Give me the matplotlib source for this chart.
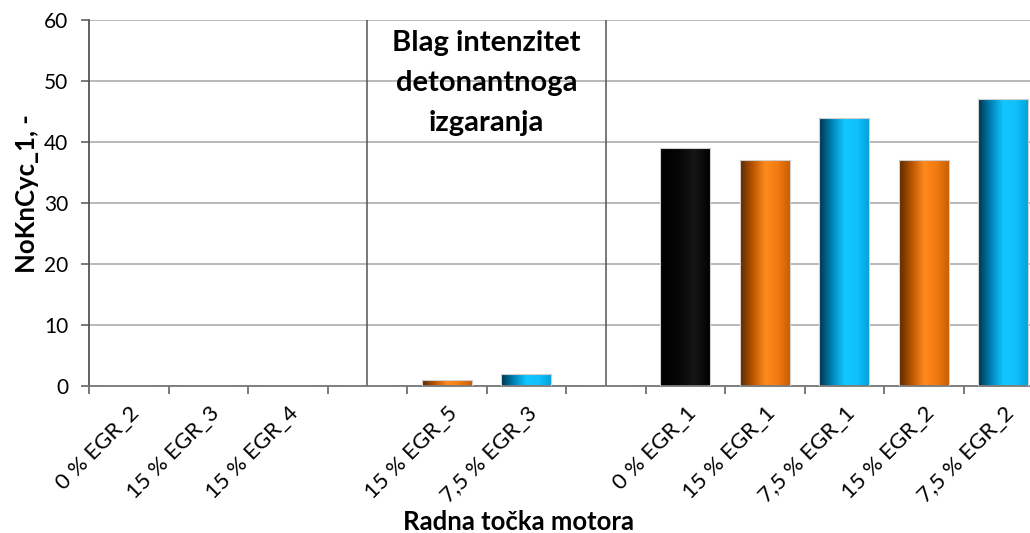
import numpy as np
import matplotlib
matplotlib.use("Agg")
import matplotlib.pyplot as plt
from matplotlib.colors import LinearSegmentedColormap

plt.rcParams['font.family'] = ['Lato', 'DejaVu Sans']

# operating points, blank slots separate the three groups
labels = ['0 % EGR_2', '15 % EGR_3', '15 % EGR_4', '',
          '15 % EGR_5', '7,5 % EGR_3', '',
          '0 % EGR_1', '15 % EGR_1', '7,5 % EGR_1', '15 % EGR_2', '7,5 % EGR_2']
values = [0, 0, 0, 0, 1, 2, 0, 39, 37, 44, 37, 47]
kinds = ['', '', '', '', 'orange', 'blue', '', 'black', 'orange', 'blue', 'orange', 'blue']
separators = [3, 6]

gradients = {
    'black': ['#000000', '#050505', '#161616', '#000000'],
    'orange': ['#5c2800', '#b85500', '#ff8a1e', '#f07a10', '#c45c00'],
    'blue': ['#00334d', '#0082b5', '#12c6ff', '#10c0fa', '#00a0d8'],
}

fig = plt.figure(figsize=(10.3, 5.33), dpi=100)
ax = fig.add_axes([0.0867, 0.2758, 0.926, 0.6867])

x = np.arange(len(labels))
bars = ax.bar(x, values, width=0.63, color='none', edgecolor='#d0d0d0', linewidth=0.8, zorder=3)

# cylinder-like shading: horizontal gradient clipped to each bar
for bar, kind in zip(bars, kinds):
    if not kind or bar.get_height() == 0:
        continue
    cmap = LinearSegmentedColormap.from_list(kind, gradients[kind])
    grad = np.linspace(0, 1, 256).reshape(1, -1)
    x0, y0 = bar.get_x(), bar.get_y()
    im = ax.imshow(grad, cmap=cmap, aspect='auto', zorder=2,
                   extent=[x0, x0 + bar.get_width(), y0, y0 + bar.get_height()])
    im.set_clip_path(bar)

for s in separators:
    ax.plot([s, s], [0, 60], color='#555555', linewidth=1.1, zorder=1)

ax.set_xlim(-0.5, len(labels) - 0.5)
ax.set_ylim(0, 60)
ax.set_yticks(range(0, 61, 10))
ax.yaxis.grid(True, color='#a6a6a6', linewidth=1.1, zorder=0)
ax.set_axisbelow(True)

ax.set_xticks(x)
ax.set_xticklabels(labels, rotation=45, ha='right', va='top', rotation_mode='anchor', fontsize=16)
ax.set_xticks(np.arange(-0.5, len(labels), 1), minor=True)
ax.tick_params(axis='x', which='major', length=0, pad=12)
ax.tick_params(axis='x', which='minor', length=6, width=1.1, color='#555555', direction='out')
ax.tick_params(axis='y', length=6, width=1.1, color='#555555', labelsize=15, pad=9)

for side in ['top', 'right']:
    ax.spines[side].set_visible(False)
ax.spines['left'].set_color('#555555')
ax.spines['left'].set_linewidth(1.3)
ax.spines['bottom'].set_color('#777777')
ax.spines['bottom'].set_linewidth(1.3)

ax.set_ylabel('NoKnCyc_1, -', fontsize=18.5, fontweight='bold')
ax.yaxis.set_label_coords(-0.053, 0.525)
ax.set_xlabel('Radna točka motora', fontsize=18.5, fontweight='bold')
ax.xaxis.set_label_coords(0.4495, -0.338)

ax.text(4.5, 58.3, 'Blag intenzitet\ndetonantnoga\nizgaranja', ha='center', va='top',
        fontsize=21, fontweight='bold', linespacing=1.65)

fig.savefig('out.png', dpi=100)
